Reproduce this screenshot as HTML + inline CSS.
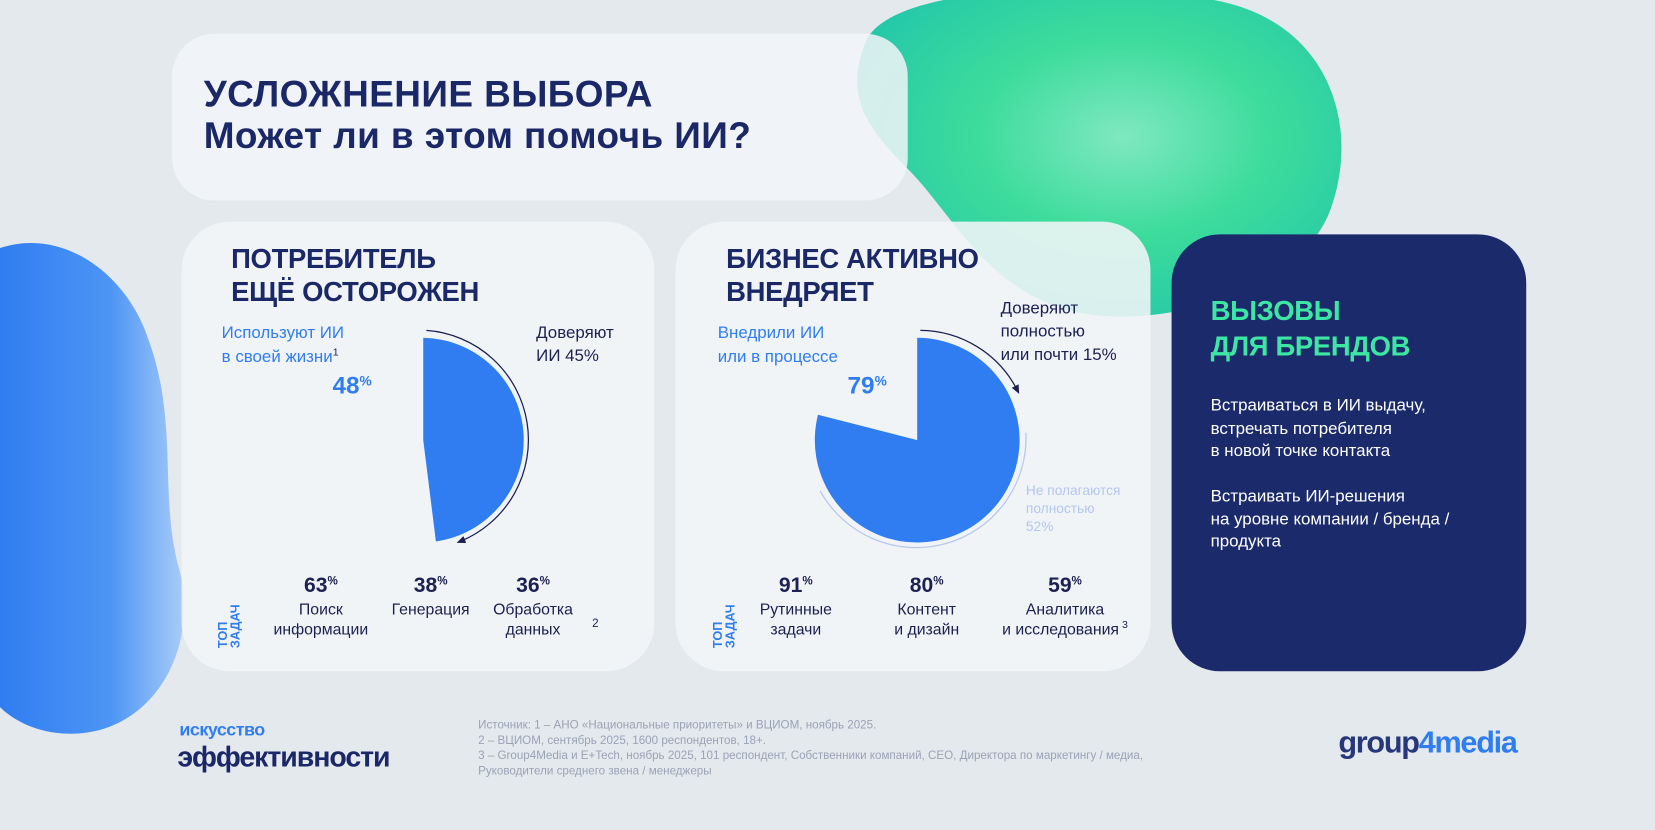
<!DOCTYPE html>
<html><head><meta charset="utf-8"><style>
html,body{margin:0;padding:0;width:1655px;height:830px;overflow:hidden;background:#e4e9ee}
#s{position:absolute;left:0;top:0;width:1568px;height:786px;transform:scale(1.05548);transform-origin:0 0;font-family:"Liberation Sans","Noto Sans CJK SC",sans-serif}
.a{position:absolute;white-space:nowrap}
sup{line-height:0;vertical-align:0;position:relative;top:-0.6em}
.card{position:absolute;background:rgba(242,245,248,0.88);border-radius:46px}
.h{font-weight:bold;color:#1b2868;font-size:26px;line-height:31px;letter-spacing:-0.3px}
.b{color:#2f7df0;font-size:16px;line-height:23px}
.d{color:#1b2150;font-size:16px;line-height:22px}
.st{position:absolute;text-align:center;width:140px;color:#1b2150;font-size:15px;line-height:19px}
.st b{display:block;font-size:20px;line-height:26px;color:#1b2150}
.st sup{font-size:11px}
.top{position:absolute;transform:rotate(-90deg);transform-origin:0 0;color:#2f7df0;font-size:12px;line-height:12px;font-weight:bold}
</style></head><body><div id="s">
<svg class="a" style="left:0;top:0" width="1568" height="786">
<defs>
<radialGradient id="g1" cx="0.55" cy="0.45" r="0.6"><stop offset="0" stop-color="#7fe8c0"/><stop offset="0.5" stop-color="#3ddc9c"/><stop offset="1" stop-color="#25c9a8"/></radialGradient>
<linearGradient id="g2" x1="0" y1="0" x2="1" y2="0"><stop offset="0" stop-color="#2f7df0"/><stop offset="0.6" stop-color="#4d95f5"/><stop offset="1" stop-color="#a9ccf8"/></linearGradient>
</defs>
<path d="M820 40 C840 -10 1000 -20 1150 0 C1260 20 1290 120 1260 200 C1230 280 1080 320 1000 290 C930 265 900 200 860 160 C820 120 800 90 820 40Z" fill="url(#g1)"/>
<path d="M0 235 C60 215 120 260 140 320 C170 400 150 470 170 540 C190 620 140 700 60 695 C30 693 10 680 0 670Z" fill="url(#g2)"/>
</svg>
<div class="card" style="left:163px;top:32px;width:697px;height:158px;border-radius:40px;background:rgba(242,245,248,0.85)"></div>
<div class="a h" style="left:193px;top:70px;font-size:35px;line-height:39px;letter-spacing:0.4px">УСЛОЖНЕНИЕ ВЫБОРА<br>Может ли в этом помочь ИИ?</div>
<div class="card" style="left:172px;top:210px;width:448px;height:426px"></div>
<div class="card" style="left:640px;top:210px;width:450px;height:426px"></div>
<div class="a" style="left:1110px;top:222px;width:336px;height:414px;background:#1b2a6a;border-radius:46px"></div>

<div class="a h" style="left:219px;top:230px">ПОТРЕБИТЕЛЬ<br>ЕЩЁ ОСТОРОЖЕН</div>
<div class="a b" style="left:210px;top:304px">Используют ИИ<br>в своей жизни<sup style="font-size:10px;color:#1b2150">1</sup></div>
<div class="a" style="left:315px;top:352px;font-size:23px;font-weight:bold;color:#2f7df0">48<sup style="font-size:13px">%</sup></div>
<div class="a d" style="left:508px;top:305px">Доверяют<br>ИИ 45%</div>
<svg class="a" style="left:0;top:0" width="1568" height="786">
<defs><marker id="ar" markerWidth="8" markerHeight="8" refX="4" refY="4" orient="auto"><path d="M0 1 L7 4 L0 7Z" fill="#1b2150"/></marker></defs>
<path d="M401 417 L401 320 A97 97 0 0 1 413 513 Z" fill="#2f7df0"/>
<path d="M404 313 A104 104 0 0 1 436 513" fill="none" stroke="#1b2150" stroke-width="1.2" marker-end="url(#ar)"/>
<path d="M869 417 L869 320 A97 97 0 1 1 775 393 Z" fill="#2f7df0"/>
<path d="M872 313 A104 104 0 0 1 964 370" fill="none" stroke="#1b2150" stroke-width="1.2" marker-end="url(#ar)"/>
<path d="M972 410 A104 104 0 0 1 777 465" fill="none" stroke="#b8c8ea" stroke-width="1.2"/>
</svg>
<div class="st" style="left:234px;top:542px"><b>63<sup>%</sup></b>Поиск<br>информации</div>
<div class="st" style="left:338px;top:542px"><b>38<sup>%</sup></b>Генерация</div>
<div class="st" style="left:435px;top:542px"><b>36<sup>%</sup></b>Обработка<br>данных</div>
<div class="a" style="left:561px;top:585px;font-size:11px;color:#1b2150">2</div>
<div class="top" style="left:205px;top:614px">ТОП<br>ЗАДАЧ</div>

<div class="a h" style="left:688px;top:230px">БИЗНЕС АКТИВНО<br>ВНЕДРЯЕТ</div>
<div class="a b" style="left:680px;top:304px">Внедрили ИИ<br>или в процессе</div>
<div class="a" style="left:803px;top:352px;font-size:23px;font-weight:bold;color:#2f7df0">79<sup style="font-size:13px">%</sup></div>
<div class="a d" style="left:948px;top:282px">Доверяют<br>полностью<br>или почти 15%</div>
<div class="a" style="left:972px;top:456px;font-size:13px;line-height:17px;color:#b3c6ec">Не полагаются<br>полностью<br>52%</div>
<div class="st" style="left:684px;top:542px"><b>91<sup>%</sup></b>Рутинные<br>задачи</div>
<div class="st" style="left:808px;top:542px"><b>80<sup>%</sup></b>Контент<br>и дизайн</div>
<div class="st" style="left:939px;top:542px"><b>59<sup>%</sup></b>Аналитика<br>и исследования<sup style="font-size:10px"> 3</sup></div>
<div class="top" style="left:674px;top:614px">ТОП<br>ЗАДАЧ</div>

<div class="a h" style="left:1147px;top:277px;color:#3de6a2;font-size:26px;line-height:34px">ВЫЗОВЫ<br>ДЛЯ БРЕНДОВ</div>
<div class="a" style="left:1147px;top:374px;color:#fff;font-size:16px;line-height:21.5px">Встраиваться в ИИ выдачу,<br>встречать потребителя<br>в новой точке контакта<br><br>Встраивать ИИ-решения<br>на уровне компании / бренда /<br>продукта</div>

<div class="a" style="left:170px;top:682px;color:#2f7df0;font-size:17px;font-weight:bold;letter-spacing:-0.5px">искусство</div>
<div class="a" style="left:168px;top:702px;color:#1b2868;font-size:27px;font-weight:bold;letter-spacing:-1px">эффективности</div>
<div class="a" style="left:453px;top:680px;color:#9aa3b6;font-size:11px;line-height:14.5px">Источник: 1 – АНО «Национальные приоритеты» и ВЦИОМ, ноябрь 2025.<br>2 – ВЦИОМ, сентябрь 2025, 1600 респондентов, 18+.<br>3 – Group4Media и E+Tech, ноябрь 2025, 101 респондент, Собственники компаний, CEO, Директора по маркетингу / медиа,<br>Руководители среднего звена / менеджеры</div>
<div class="a" style="left:1268px;top:688px;font-size:29px;font-weight:bold;letter-spacing:-1.2px;color:#26377a">group<span style="color:#2f7df0">4media</span></div>
</div></body></html>
